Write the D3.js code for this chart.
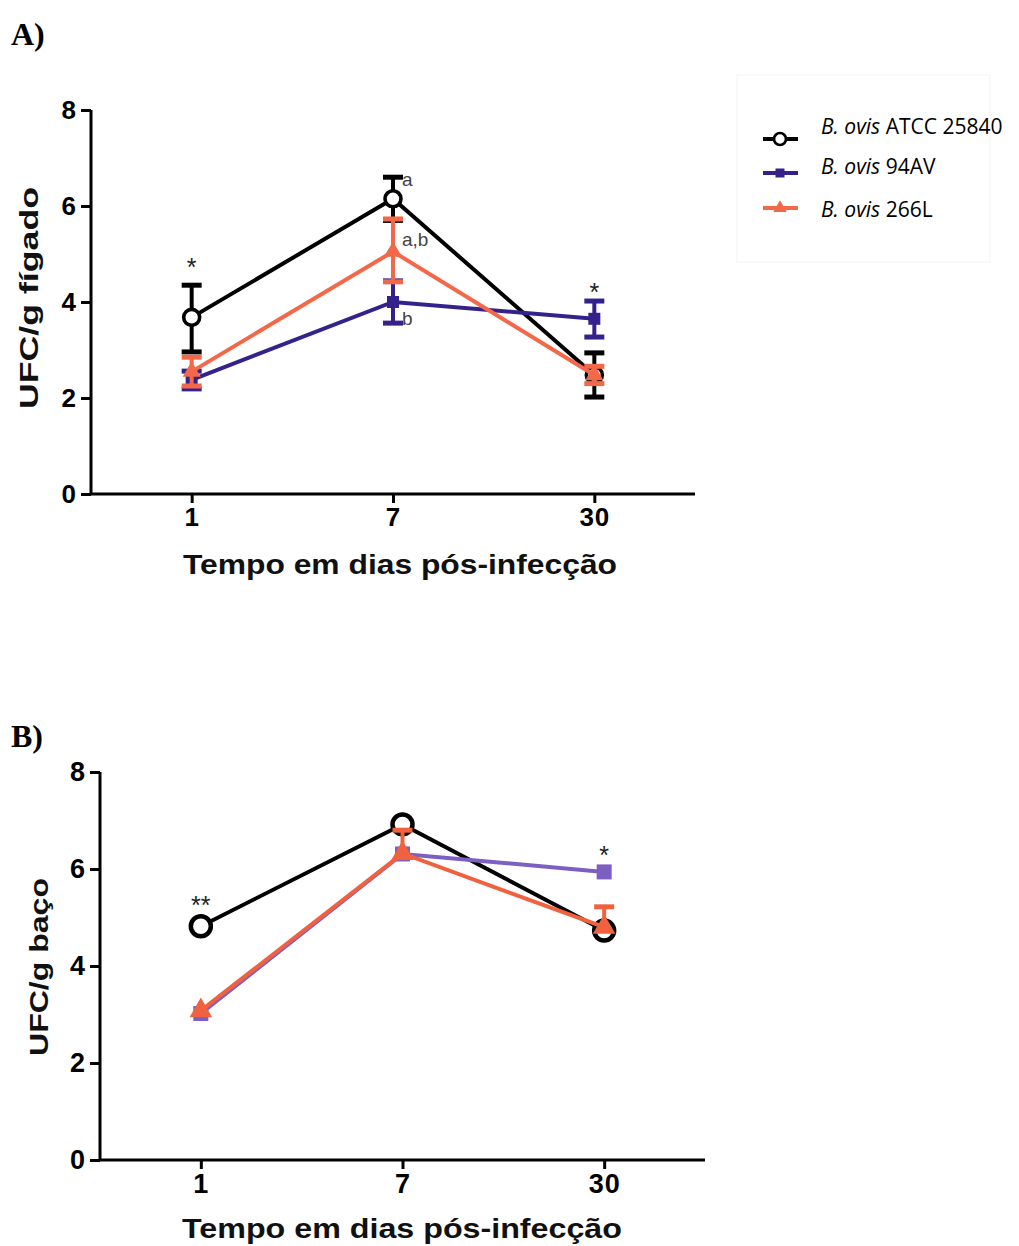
<!DOCTYPE html>
<html>
<head>
<meta charset="utf-8">
<script src="https://cdn.jsdelivr.net/npm/d3@7"></script>
<style>
  body { margin: 0; background: #fff; }
  text { font-family: "Liberation Sans", Arial, sans-serif; }
</style>
</head>
<body>
<svg id="fig" width="1019" height="1246"></svg>
<script>
/********
 * Data *
 ********/
var days = ["1", "7", "30"];
var yTicks = [0, 2, 4, 6, 8];

var strainNames = ["ATCC 25840", "94AV", "266L"];
var strainColorsA = ["#000000", "#35218c", "#f26849"];
var strainColorsB = ["#000000", "#7d5fc2", "#f0623f"];

// A) liver
var liverATCC   = [3.68, 6.15, 2.48];
var liverATCCLo = [2.96, 5.70, 2.02];
var liverATCCHi = [4.35, 6.60, 2.94];
var liver94AV   = [2.38, 4.00, 3.65];
var liver94AVLo = [2.19, 3.56, 3.27];
var liver94AVHi = [2.56, 4.44, 4.02];
var liver266L   = [2.55, 5.05, 2.48];
var liver266LLo = [2.25, 4.42, 2.30];
var liver266LHi = [2.85, 5.73, 2.66];
var liverStars  = ["*", "", "*"];
var liverLetters = ["a", "b", "a,b"];   // day 7, per strain

// B) spleen
var spleenATCC   = [4.82, 6.92, 4.73];
var spleenATCCHi = [null, null, null];
var spleen94AV   = [3.02, 6.31, 5.94];
var spleen94AVHi = [null, null, null];
var spleen266L   = [3.08, 6.32, 4.80];
var spleen266LHi = [null, 6.80, 5.22];
var spleenStars  = ["**", "", "*"];

var svg = d3.select("#fig");

function drawMarker(g, kind, x, y, color, s) {
  if (kind === 0) {
    g.append("circle").attr("cx", x).attr("cy", y).attr("r", s)
      .attr("fill", "#fff").attr("stroke", color).attr("stroke-width", s * 0.45);
  } else if (kind === 1) {
    g.append("rect").attr("x", x - s * 0.75).attr("y", y - s * 0.75)
      .attr("width", s * 1.5).attr("height", s * 1.5).attr("fill", color);
  } else {
    g.append("path").attr("transform", "translate(" + x + "," + y + ")")
      .attr("d", d3.symbol().type(d3.symbolTriangle).size(s * s * 2.2)())
      .attr("fill", color);
  }
}

function drawPanel(cfg) {
  var x = d3.scalePoint().domain(days).range([cfg.x0, cfg.x1]).padding(0.5);
  var y = d3.scaleLinear().domain([0, 8]).range([cfg.y0, cfg.y1]);
  var g = svg.append("g");

  // axes
  var yAxis = d3.axisLeft(y).tickValues(yTicks).tickSize(10).tickPadding(4);
  var yg = g.append("g").attr("transform", "translate(" + cfg.x0 + ",0)").call(yAxis);
  var xAxis = d3.axisBottom(x).tickSize(9).tickPadding(5);
  var xg = g.append("g").attr("transform", "translate(0," + cfg.y0 + ")").call(xAxis);
  [yg, xg].forEach(function(a) {
    a.select(".domain").attr("stroke", "#000").attr("stroke-width", 3)
      .attr("d", a === yg ? "M0," + cfg.y0 + "V" + cfg.y1 : "M" + cfg.x0 + ",0H" + cfg.x1);
    a.selectAll(".tick line").attr("stroke", "#000").attr("stroke-width", 3);
    a.selectAll(".tick text").attr("fill", "#000").style("font-size", cfg.tickFs + "px")
      .style("font-weight", "bold").style("letter-spacing", "1px");
  });

  // series
  cfg.series.forEach(function(s, i) {
    var color = cfg.colors[i];
    var sg = g.append("g");
    var pts = s.mean.map(function(v, j) { return [x(days[j]), y(v)]; });
    sg.append("path").attr("d", d3.line()(pts)).attr("fill", "none")
      .attr("stroke", color).attr("stroke-width", cfg.lw);
    s.mean.forEach(function(v, j) {
      var cx = x(days[j]);
      var hi = s.hi ? s.hi[j] : null, lo = s.lo ? s.lo[j] : null;
      [hi, lo].forEach(function(e) {
        if (e == null) return;
        sg.append("line").attr("x1", cx).attr("x2", cx).attr("y1", y(v)).attr("y2", y(e))
          .attr("stroke", color).attr("stroke-width", 4);
        sg.append("line").attr("x1", cx - 10).attr("x2", cx + 10).attr("y1", y(e)).attr("y2", y(e))
          .attr("stroke", color).attr("stroke-width", 5);
      });
      drawMarker(sg, i, cx, y(v), color, cfg.ms);
    });
  });

  // significance
  cfg.stars.forEach(function(st, j) {
    if (!st) return;
    g.append("text").attr("x", x(days[j])).attr("y", cfg.starY[j])
      .attr("text-anchor", "middle").style("font-size", "25px").attr("fill", "#222").text(st);
  });

  // axis titles
  g.append("text").attr("x", cfg.xtX).attr("y", cfg.xtY).attr("text-anchor", "middle")
    .style("font-size", "28px").style("font-weight", "bold").attr("fill", "#111")
    .attr("textLength", cfg.xtLen).attr("lengthAdjust", "spacingAndGlyphs")
    .text("Tempo em dias pós-infecção");
  g.append("text").attr("transform", "translate(" + cfg.ytX + "," + cfg.ytY + ") rotate(-90)")
    .attr("text-anchor", "middle").style("font-size", "26px").style("font-weight", "bold")
    .attr("textLength", cfg.ytLen).attr("lengthAdjust", "spacingAndGlyphs")
    .attr("fill", "#111").text(cfg.yTitle);

  svg.append("text").attr("x", 11).attr("y", cfg.labY).text(cfg.label)
    .style("font-family", "'Liberation Serif', 'Times New Roman', serif")
    .style("font-size", "32px").style("font-weight", "bold");

  return { x: x, y: y, g: g };
}

var pA = drawPanel({
  x0: 91, x1: 695, y0: 494, y1: 110, lw: 4, ms: 8, colors: strainColorsA, tickFs: 26,
  series: [
    { mean: liverATCC, lo: liverATCCLo, hi: liverATCCHi },
    { mean: liver94AV, lo: liver94AVLo, hi: liver94AVHi },
    { mean: liver266L, lo: liver266LLo, hi: liver266LHi }
  ],
  stars: liverStars, starY: [276, 0, 301],
  xtX: 400, xtY: 574, xtLen: 434, ytX: 38, ytY: 298, ytLen: 222,
  yTitle: "UFC/g fígado", label: "A)", labY: 45
});

// letters next to day-7 points
var lettersY = [liverATCCHi[1] - 0.05, liver94AVLo[1] + 0.1, liver266L[1] + 0.25];
liverLetters.forEach(function(t, i) {
  pA.g.append("text").attr("x", pA.x("7") + 9).attr("y", pA.y(lettersY[i]))
    .attr("dy", "0.35em").style("font-size", "19px").attr("fill", "#444").text(t);
});

var pB = drawPanel({
  x0: 100, x1: 705, y0: 1160, y1: 772, lw: 4, ms: 10, colors: strainColorsB, tickFs: 27,
  series: [
    { mean: spleenATCC, hi: spleenATCCHi },
    { mean: spleen94AV, hi: spleen94AVHi },
    { mean: spleen266L, hi: spleen266LHi }
  ],
  stars: spleenStars, starY: [914, 0, 864],
  xtX: 402, xtY: 1238, xtLen: 440, ytX: 48, ytY: 967, ytLen: 178,
  yTitle: "UFC/g baço", label: "B)", labY: 747
});

/**********
 * Legend *
 **********/
svg.append("rect").attr("x", 737).attr("y", 75).attr("width", 253).attr("height", 187)
  .attr("fill", "none").attr("stroke", "#f7f7f7").attr("stroke-width", 1.5);
var legSymY = [139, 173, 208];
var legTextY = [127, 167, 210];
strainNames.forEach(function(name, i) {
  var lg = svg.append("g");
  lg.append("line").attr("x1", 763).attr("x2", 798).attr("y1", legSymY[i]).attr("y2", legSymY[i])
    .attr("stroke", strainColorsA[i]).attr("stroke-width", 4);
  drawMarker(lg, i, 780, legSymY[i], strainColorsA[i], 6);
  var t = lg.append("text").attr("x", 821).attr("y", legTextY[i]).attr("dy", "0.35em")
    .style("font-family", "'Open Sans', sans-serif").style("font-size", "21px").attr("fill", "#000");
  t.append("tspan").style("font-style", "italic").text("B. ovis");
  t.append("tspan").text(" " + name);
});
</script>
</body>
</html>
